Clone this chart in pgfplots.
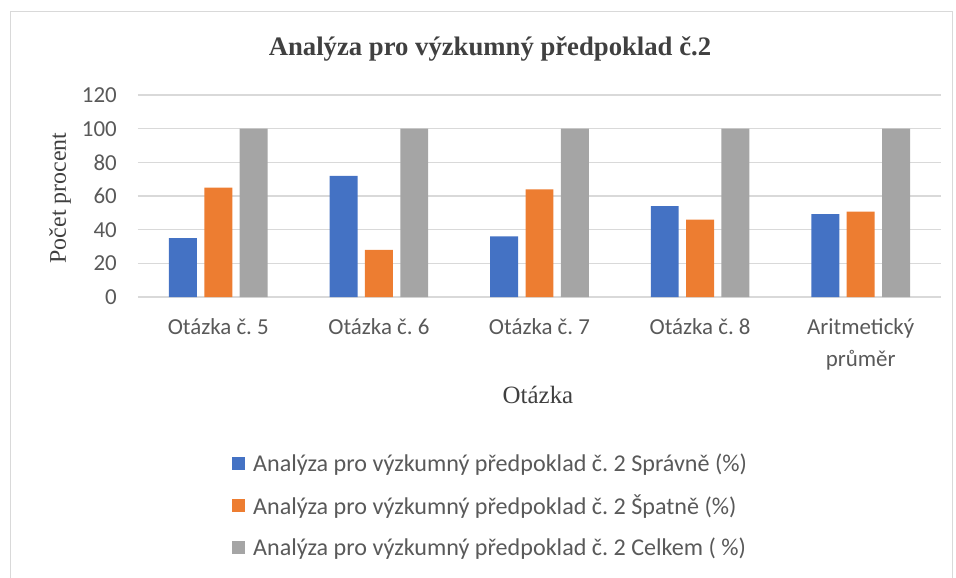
\documentclass[border=0pt]{standalone}
\usepackage{fontspec}
\setmainfont{Liberation Serif}
\newfontfamily\carlito{Carlito}
\usepackage{pgfplots}
\pgfplotsset{compat=1.18}
\definecolor{cblue}{HTML}{4472C4}
\definecolor{corange}{HTML}{ED7D31}
\definecolor{cgray}{HTML}{A5A5A5}
\definecolor{gridc}{HTML}{D9D9D9}
\definecolor{txt}{HTML}{595959}
\definecolor{ttl}{HTML}{404040}
\frenchspacing

\begin{document}
\begin{tikzpicture}
\path[use as bounding box] (-138bp,-281bp) rectangle (818bp,297bp);
\draw[gridc, line width=1bp] (-127bp,-282bp) -- (-127bp,285bp) -- (814bp,285bp) -- (814bp,-282bp);
\begin{axis}[at={(0,0)}, anchor=south west, scale only axis,
  width=803bp, height=202bp,
  xmin=-0.5, xmax=4.5, ymin=0, ymax=120, ytick={0,20,...,120},
  xtick={0,1,2,3,4},
  xticklabels={Otázka č. 5, Otázka č. 6, Otázka č. 7, Otázka č. 8, {Aritmetický\\průměr}},
  axis line style={draw=none}, major tick length=0pt,
  ymajorgrids, grid style={gridc, line width=1.3bp},
  /pgf/number format/assume math mode=true,
  ticklabel style={font=\carlito\fontsize{23}{33}\selectfont, text=txt},
  yticklabel style={anchor=east, inner sep=0pt, xshift=-21bp},
  xticklabel style={anchor=north, inner sep=0pt, yshift=-21bp, align=center},
  legend image code/.code={\fill[#1, draw=none] (0bp,-6.5bp) rectangle (13bp,6.5bp);},
  legend style={at={(axis description cs:0.117,-0.765)}, anchor=north west,
    draw=none, fill=none, inner sep=0pt, row sep=18bp, column sep=6bp,
    font=\carlito\fontsize{24.2}{28}\selectfont, text=txt},
  legend cell align=left,
]
\addplot[ybar, bar width=0.174, bar shift=-0.22, fill=cblue, draw=none]
  coordinates {(0,35) (1,72) (2,36) (3,54) (4,49.25)};
\addplot[ybar, bar width=0.174, bar shift=0, fill=corange, draw=none]
  coordinates {(0,65) (1,28) (2,64) (3,46) (4,50.75)};
\addplot[ybar, bar width=0.174, bar shift=0.22, fill=cgray, draw=none]
  coordinates {(0,100) (1,100) (2,100) (3,100) (4,100)};
\legend{Analýza pro výzkumný předpoklad č. 2 Správně (\%),
  Analýza pro výzkumný předpoklad č. 2 Špatně (\%),
  Analýza pro výzkumný předpoklad č. 2 Celkem ( \%)}
\end{axis}
\node[font=\bfseries\fontsize{26.8}{30}\selectfont, text=ttl] at (352bp,248bp) {Analýza pro výzkumný předpoklad č.2};
\node[font=\fontsize{24}{28}\selectfont, text=ttl, rotate=90] at (-78bp,99bp) {Počet procent};
\node[font=\fontsize{25}{28}\selectfont, text=ttl] at (400bp,-98bp) {Otázka};
\end{tikzpicture}
\end{document}
